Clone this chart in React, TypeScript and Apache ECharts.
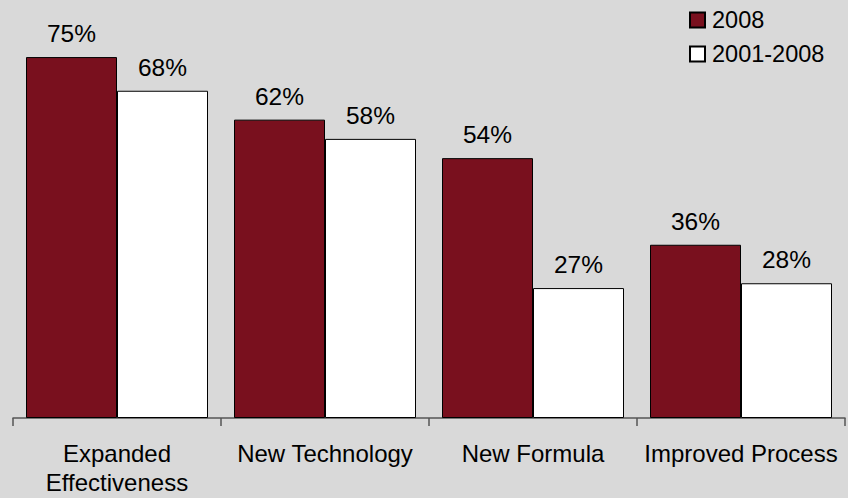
import React, { useEffect, useRef } from "react";
import * as echarts from "echarts";

const categories = ["Expanded\nEffectiveness", "New Technology", "New Formula", "Improved Process"];
const series2008 = [75, 62, 54, 36];
const series2001 = [68, 58, 27, 28];
const seriesNames = ["2008", "2001-2008"];

export default function App() {
  const ref = useRef<HTMLDivElement>(null);
  useEffect(() => {
    const chart = echarts.init(ref.current!, null, { renderer: "svg" });
    const labelStyle = {
      show: true,
      position: "top" as const,
      distance: 11,
      formatter: "{c}%",
      fontFamily: "Liberation Sans, Arial, sans-serif",
      fontSize: 24.5,
      color: "#000",
    };
    chart.setOption({
      animation: false,
      backgroundColor: "#d9d9d9",
      textStyle: { fontFamily: "Liberation Sans, Arial, sans-serif" },
      legend: {
        orient: "vertical",
        left: 689,
        top: 8,
        padding: 0,
        itemWidth: 15,
        itemHeight: 15,
        itemGap: 10,
        icon: "rect",
        textStyle: { fontSize: 23.5, lineHeight: 24, color: "#000", padding: [0, 0, 0, 2] },
        data: seriesNames,
      },
      grid: { left: 13, right: 3, top: 33, bottom: 80 },
      xAxis: {
        type: "category",
        data: categories,
        axisLine: { lineStyle: { color: "#555", width: 1.5 } },
        axisTick: { show: true, length: 8, lineStyle: { color: "#555", width: 1.5 } },
        axisLabel: {
          fontSize: 24,
          color: "#000",
          margin: 21,
          lineHeight: 29,
          interval: 0,
        },
      },
      yAxis: {
        type: "value",
        min: 0,
        max: 80,
        show: false,
        splitLine: { show: false },
      },
      series: [
        {
          name: seriesNames[0],
          type: "bar",
          data: series2008,
          barGap: "0%",
          barCategoryGap: "12.5%",
          itemStyle: { color: "#79101e", borderColor: "#000", borderWidth: 1 },
          label: labelStyle,
        },
        {
          name: seriesNames[1],
          type: "bar",
          data: series2001,
          barGap: "0%",
          barCategoryGap: "12.5%",
          itemStyle: { color: "#ffffff", borderColor: "#000", borderWidth: 1 },
          label: labelStyle,
        },
      ],
    });
    return () => chart.dispose();
  }, []);
  return <div ref={ref} style={{ width: 848, height: 498, position: "absolute", left: 0, top: 0 }} />;
}
